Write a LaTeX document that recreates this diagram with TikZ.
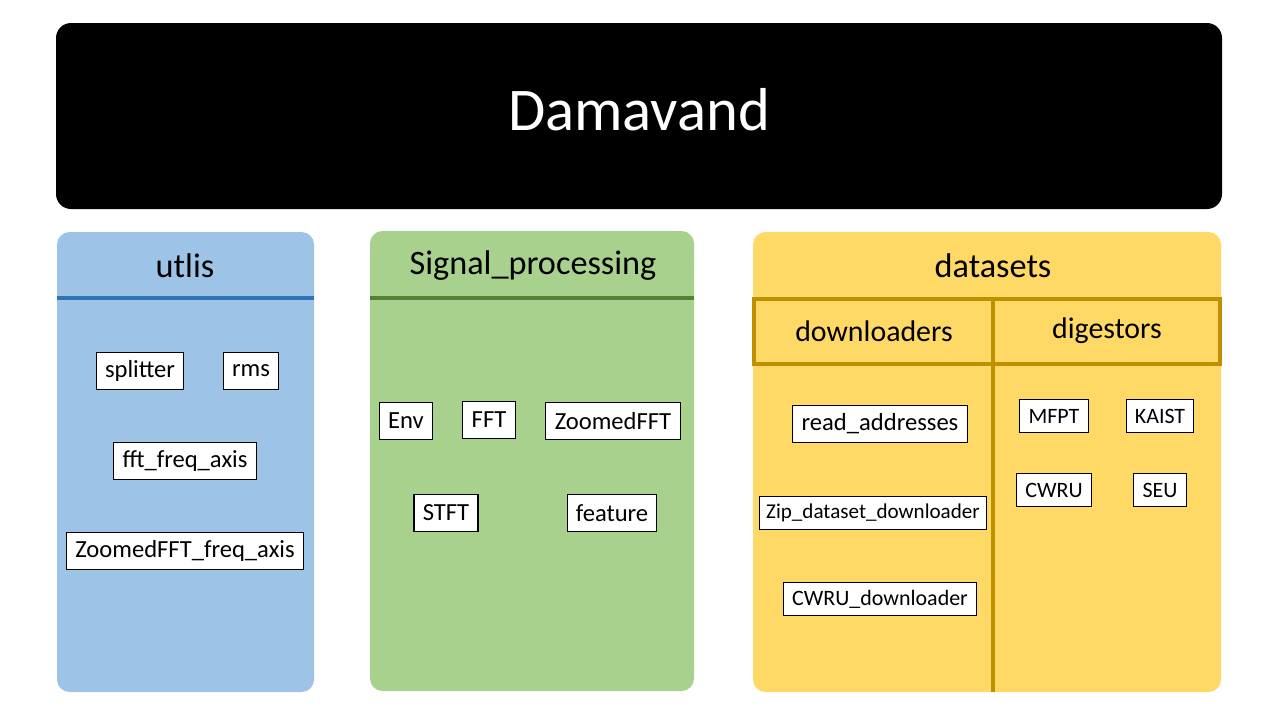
\documentclass[tikz,border=0pt]{standalone}
\usepackage{fontspec}
\setmainfont{Carlito}
\usepackage{tikz}

\definecolor{utlisfill}{RGB}{157,195,230}
\definecolor{utlisline}{RGB}{46,117,182}
\definecolor{sigfill}{RGB}{169,209,142}
\definecolor{sigline}{RGB}{84,130,53}
\definecolor{dsfill}{RGB}{255,217,102}
\definecolor{dsline}{RGB}{191,144,0}

\begin{document}
\begin{tikzpicture}[x=0.02cm,y=-0.02cm,
  modbox/.style={draw=black,fill=white,line width=0.6pt,inner xsep=5pt,
    minimum height=0.74cm,font=\fontsize{14}{16}\selectfont},
  smallbox/.style={modbox,minimum height=0.66cm,font=\fontsize{12.5}{15}\selectfont},
  paneltitle/.style={font=\fontsize{19.5}{22}\selectfont},
  subtitle/.style={font=\fontsize{17}{20}\selectfont}]
\useasboundingbox (0,0) rectangle (1280,720);
% top banner
\fill[black,rounded corners=0.3cm] (56,23) rectangle (1222,209);
\node[white,font=\fontsize{34.5}{40}\selectfont] (damavand) at (639,110) {Damavand};

% utlis
\fill[utlisfill,rounded corners=0.25cm] (57,232) rectangle (314,692);
\node[paneltitle] (utlis) at (185,266) {utlis};
\draw[utlisline,line width=1.9pt] (57,298) -- (314,298);
\node[modbox] (splitter) at (140,371) {splitter};
\node[modbox] (rms) at (251,371) {rms};
\node[modbox] (fftaxis) at (185,461) {fft\_freq\_axis};
\node[modbox] (zoomaxis) at (185,551) {ZoomedFFT\_freq\_axis};

% Signal_processing
\fill[sigfill,rounded corners=0.25cm] (370,231) rectangle (694,691);
\node[paneltitle] (signal) at (533,266) {Signal\_processing};
\draw[sigline,line width=1.9pt] (370,298) -- (694,298);
\node[modbox] (env) at (406,421) {Env};
\node[modbox] (fft) at (489,420) {FFT};
\node[modbox] (zoomfft) at (613,421) {ZoomedFFT};
\node[modbox] (stft) at (446,513) {STFT};
\node[modbox] (feature) at (612,513) {feature};

% datasets
\fill[dsfill,rounded corners=0.25cm] (753,232) rectangle (1221,692);
\node[paneltitle] (datasets) at (993,266) {datasets};
\draw[dsline,line width=1.9pt] (754,299) rectangle (1220,364);
\draw[dsline,line width=1.9pt] (993,299) -- (993,692);
\node[subtitle] (downloaders) at (874,331) {downloaders};
\node[subtitle] (digestors) at (1107,331) {digestors};
\node[modbox] (readaddr) at (880,424) {read\_addresses};
\node[smallbox,font=\fontsize{12}{14}\selectfont,inner xsep=4pt] (zipdl) at (873,513) {Zip\_dataset\_downloader};
\node[smallbox] (cwrudl) at (880,599) {CWRU\_downloader};
\node[smallbox] (mfpt) at (1054,416) {MFPT};
\node[smallbox] (kaist) at (1160,416) {KAIST};
\node[smallbox] (cwru) at (1054,490) {CWRU};
\node[smallbox] (seu) at (1160,490) {SEU};
\end{tikzpicture}
\end{document}
